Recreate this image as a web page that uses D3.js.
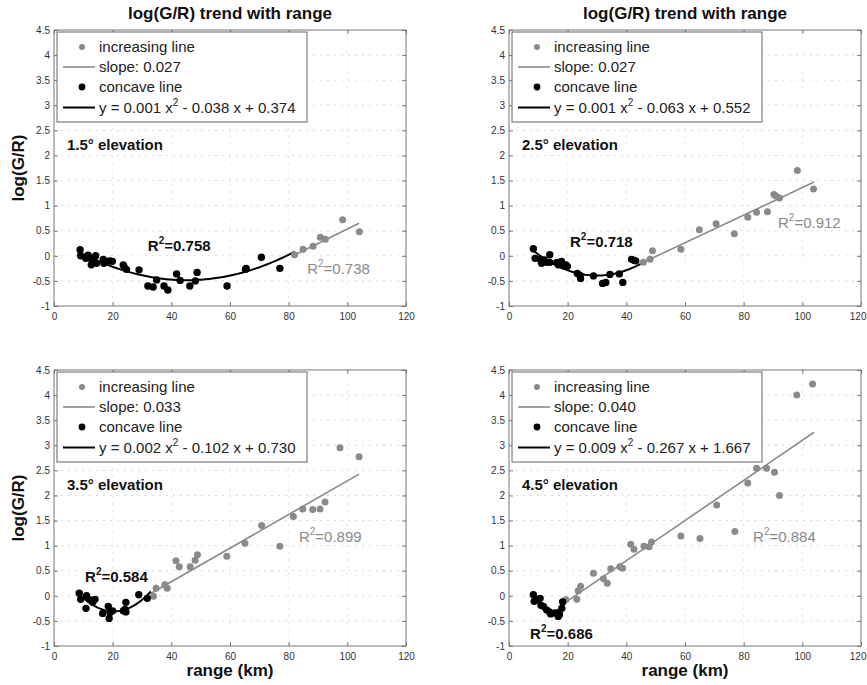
<!DOCTYPE html>
<html>
<head>
<meta charset="utf-8">
<script src="https://cdn.jsdelivr.net/npm/d3@7"></script>
<style>
  body { margin: 0; background: #fff; }
  svg { font-family: "Liberation Sans", Arial, sans-serif; }
</style>
</head>
<body>
<svg id="chart" width="867" height="685"></svg>
<script>
// ---- data ----
const titles = ["log(G/R) trend with range", "log(G/R) trend with range", "", ""];
const elevations = ["1.5° elevation", "2.5° elevation", "3.5° elevation", "4.5° elevation"];
const xTicks = [0, 20, 40, 60, 80, 100, 120];
const yTicks = [-1, -0.5, 0, 0.5, 1, 1.5, 2, 2.5, 3, 3.5, 4, 4.5];

// [range km, log(G/R)]
const concave15 = [[8.9,0.12],[9.1,0.0],[10.8,-0.05],[11.6,0.01],[12.3,-0.05],[12.7,-0.18],[13.4,-0.1],[14.2,0.0],
  [14.5,-0.15],[16.8,-0.07],[17,-0.15],[18.2,-0.11],[19.1,-0.1],[19.9,-0.11],[23.6,-0.18],[24,-0.23],[24.7,-0.27],
  [29,-0.28],[32,-0.6],[33.8,-0.62],[35,-0.48],[37.5,-0.6],[38.8,-0.68],[41.8,-0.36],[43,-0.49],[46.3,-0.6],
  [48.2,-0.5],[48.8,-0.33],[59,-0.6],[65.3,-0.27],[65.5,-0.25],[70.7,-0.03],[77,-0.25]];
const increasing15 = [[82,0.02],[84.9,0.13],[88.3,0.19],[90.8,0.37],[92.5,0.33],[98.4,0.72],[104.1,0.48]];

const concave25 = [[8.3,0.14],[8.9,-0.05],[10.6,-0.07],[11.1,-0.15],[12,-0.08],[12.8,-0.13],[13.9,0.02],[13.9,-0.13],
  [16.3,-0.13],[16.8,-0.18],[17.9,-0.11],[18.5,-0.2],[19.4,-0.18],[19.9,-0.21],[23.3,-0.35],[24.2,-0.39],[24.4,-0.45],
  [28.8,-0.4],[31.9,-0.55],[33,-0.53],[34.4,-0.37],[37.6,-0.36],[38.8,-0.53],[41.8,-0.07],[42.6,-0.09],[43.2,-0.1]];
const increasing25 = [[45.8,-0.13],[48.1,-0.07],[48.9,0.1],[58.6,0.13],[64.9,0.52],[70.6,0.64],[76.8,0.44],[81.4,0.77],
  [84.4,0.87],[88.1,0.88],[90.3,1.22],[91,1.19],[92.2,1.15],[98.3,1.7],[103.8,1.33]];

const concave35 = [[8.6,0.05],[9.1,-0.07],[11.1,0.0],[10.9,-0.25],[12.3,-0.08],[13.2,-0.13],[14,-0.07],[16.6,-0.35],
  [18.5,-0.21],[18.8,-0.45],[19.1,-0.33],[20,-0.3],[23.6,-0.3],[24.2,-0.27],[24.5,-0.32],[24.5,-0.13],[28.9,0.02],[31.8,-0.05]];
const increasing35 = [[33.9,-0.01],[34.8,0.15],[37.8,0.22],[38.6,0.15],[41.6,0.7],[42.7,0.58],[46.4,0.58],[48.1,0.71],
  [48.9,0.82],[58.9,0.79],[65.1,1.05],[70.8,1.4],[77,0.99],[81.6,1.58],[84.8,1.73],[88.2,1.72],[90.7,1.73],[92.4,1.87],
  [97.5,2.95],[104,2.77]];

const concave45 = [[8.3,0.02],[8.6,-0.11],[9.4,-0.08],[10.6,-0.05],[10.9,-0.19],[11.7,-0.21],[12.8,-0.28],[13.8,-0.32],
  [14.2,-0.36],[15.7,-0.34],[16.8,-0.41],[17.2,-0.37],[18,-0.25],[18.3,-0.12]];
const increasing45 = [[19.4,-0.08],[23.1,-0.07],[23.6,0.1],[24.4,0.19],[28.8,0.45],[32.2,0.34],[33.5,0.25],[34.7,0.54],
  [37.8,0.58],[38.7,0.55],[41.5,1.03],[42.6,0.93],[46,0.99],[47.8,0.98],[48.6,1.07],[58.6,1.19],[65.1,1.14],[70.8,1.81],
  [77,1.28],[81.4,2.25],[84.4,2.54],[87.8,2.54],[90.5,2.46],[92.2,2.0],[98.1,4.0],[103.5,4.22]];

const concaveSets = [concave15, concave25, concave35, concave45];
const increasingSets = [increasing15, increasing25, increasing35, increasing45];

// fitted curves as drawn
const quadCoefs = [[0.00042,-0.038,0.374],[0.00105,-0.063,0.552],[0.0025,-0.102,0.730],[0.009,-0.267,1.667]];
const quadRanges = [[9,82],[8.3,46],[8.6,33],[8.3,19.5]];
const lineCoefs = [[0.0288,-2.347],[0.0275,-1.39],[0.0335,-1.06],[0.040,-0.90]];
const lineRanges = [[81.5,104],[46,104],[33,104],[19.5,104]];

const slopeLabels = ["0.027", "0.027", "0.033", "0.040"];
const quadLabels = [["0.001","0.038","0.374"],["0.001","0.063","0.552"],["0.002","0.102","0.730"],["0.009","0.267","1.667"]];
const r2Concave = ["0.758", "0.718", "0.584", "0.686"];
const r2Increasing = ["0.738", "0.912", "0.899", "0.884"];
const r2ConcavePos = [[32,0.1],[20.8,0.175],[10.6,0.275],[7.2,-0.86]];
const r2IncreasingPos = [[86.3,-0.36],[91.7,0.55],[83.5,1.07],[83.2,1.07]];

// ---- layout ----
const panelW = 352, panelH = 276;
const panelPos = [[54,30],[509,30],[54,370],[509,370]];
const grey = "#8a8a8a";

const svg = d3.select("#chart");

function r2Text(sel, val) {
  sel.append("tspan").text("R");
  sel.append("tspan").attr("font-size", "10px").attr("dy", -7).text("2");
  sel.append("tspan").attr("dy", 7).text("=" + val);
}

panelPos.forEach((p, i) => {
  let g = svg.append("g").attr("transform", "translate(" + p[0] + "," + p[1] + ")");

  let x = d3.scaleLinear().domain([0, 120]).range([0, panelW]);
  let y = d3.scaleLinear().domain([-1, 4.5]).range([panelH, 0]);

  // dotted grid
  g.append("g").selectAll("line").data(yTicks.slice(1, -1)).enter().append("line")
    .attr("x1", 0).attr("x2", panelW)
    .attr("y1", d => y(d)).attr("y2", d => y(d))
    .attr("stroke", "#d8d8d8").attr("stroke-dasharray", "2,5");
  g.append("g").selectAll("line").data(xTicks.slice(1, -1)).enter().append("line")
    .attr("y1", 0).attr("y2", panelH)
    .attr("x1", d => x(d)).attr("x2", d => x(d))
    .attr("stroke", "#e6e6e6").attr("stroke-dasharray", "2,5");

  // axes, ticks pointing inward
  let xAxis = g.append("g").attr("transform", "translate(0," + panelH + ")")
    .call(d3.axisBottom(x).tickValues(xTicks).tickSize(-4).tickPadding(7).tickFormat(d => d));
  let yAxis = g.append("g")
    .call(d3.axisLeft(y).tickValues(yTicks).tickSize(-4).tickPadding(4).tickFormat(d => d));
  let topAxis = g.append("g").call(d3.axisTop(x).tickValues(xTicks).tickSize(-4).tickFormat(""));
  let rightAxis = g.append("g").attr("transform", "translate(" + panelW + ",0)")
    .call(d3.axisRight(y).tickValues(yTicks).tickSize(-4).tickFormat(""));

  [xAxis, yAxis, topAxis, rightAxis].forEach(a => {
    a.select(".domain").remove();
    a.selectAll(".tick line").attr("stroke", "#777");
    a.selectAll("text").attr("font-size", "10px").attr("fill", "#333")
      .attr("font-family", "Liberation Sans, Arial, sans-serif");
  });

  // right-hand panels: keep the last x label inside the page
  if (i % 2 === 1) {
    xAxis.selectAll(".tick text").filter(d => d === 120)
      .attr("text-anchor", "end").attr("x", 5);
  }

  g.append("rect").attr("width", panelW).attr("height", panelH)
    .attr("fill", "none").attr("stroke", "#777");

  // increasing line fit
  let lc = lineCoefs[i];
  g.append("line")
    .attr("x1", x(lineRanges[i][0])).attr("y1", y(lc[0] * lineRanges[i][0] + lc[1]))
    .attr("x2", x(lineRanges[i][1])).attr("y2", y(lc[0] * lineRanges[i][1] + lc[1]))
    .attr("stroke", grey).attr("stroke-width", 1.6);

  // concave quadratic fit
  let qc = quadCoefs[i];
  let xs = d3.range(quadRanges[i][0], quadRanges[i][1] + 0.01, (quadRanges[i][1] - quadRanges[i][0]) / 60);
  g.append("path")
    .datum(xs)
    .attr("fill", "none").attr("stroke", "#000").attr("stroke-width", 2)
    .attr("d", d3.line().x(d => x(d)).y(d => y(qc[0] * d * d + qc[1] * d + qc[2])));

  // points
  g.append("g").selectAll("circle").data(increasingSets[i]).enter().append("circle")
    .attr("cx", d => x(d[0])).attr("cy", d => y(d[1])).attr("r", 3.5).attr("fill", grey);
  g.append("g").selectAll("circle").data(concaveSets[i]).enter().append("circle")
    .attr("cx", d => x(d[0])).attr("cy", d => y(d[1])).attr("r", 3.7).attr("fill", "#000");

  // R² labels
  g.append("text").attr("x", x(r2ConcavePos[i][0])).attr("y", y(r2ConcavePos[i][1]))
    .attr("font-size", "15px").attr("font-weight", "bold").attr("fill", "#111")
    .call(r2Text, r2Concave[i]);
  g.append("text").attr("x", x(r2IncreasingPos[i][0])).attr("y", y(r2IncreasingPos[i][1]))
    .attr("font-size", "15px").attr("fill", grey)
    .call(r2Text, r2Increasing[i]);

  // elevation label
  g.append("text").attr("x", x(4.4)).attr("y", y(2.11))
    .attr("font-size", "15px").attr("font-weight", "bold").attr("fill", "#111")
    .text(elevations[i]);

  // legend
  let lg = g.append("g").attr("transform", "translate(3,2)");
  lg.append("rect").attr("width", 250).attr("height", 90)
    .attr("fill", "#fff").attr("stroke", "#666");
  lg.append("circle").attr("cx", 25).attr("cy", 15).attr("r", 3).attr("fill", grey);
  lg.append("line").attr("x1", 6).attr("x2", 38).attr("y1", 35).attr("y2", 35)
    .attr("stroke", grey).attr("stroke-width", 1.6);
  lg.append("circle").attr("cx", 25).attr("cy", 55).attr("r", 3.4).attr("fill", "#000");
  lg.append("line").attr("x1", 6).attr("x2", 38).attr("y1", 75.5).attr("y2", 75.5)
    .attr("stroke", "#000").attr("stroke-width", 2);

  let legendText = ["increasing line", "slope: " + slopeLabels[i], "concave line"];
  lg.selectAll(".lt").data(legendText).enter().append("text")
    .attr("class", "lt")
    .attr("x", 42).attr("y", (d, k) => 19.5 + k * 20)
    .attr("font-size", "15px").attr("fill", "#222")
    .text(d => d);
  let eq = lg.append("text").attr("x", 42).attr("y", 81).attr("font-size", "15px").attr("fill", "#222");
  let ql = quadLabels[i];
  eq.append("tspan").text("y = " + ql[0] + " x");
  eq.append("tspan").attr("font-size", "10px").attr("dy", -7).text("2");
  eq.append("tspan").attr("dy", 7).text(" - " + ql[1] + " x + " + ql[2]);

  // titles and axis labels
  if (titles[i]) {
    svg.append("text").attr("x", p[0] + panelW / 2).attr("y", 19)
      .attr("text-anchor", "middle").attr("font-size", "17px").attr("font-weight", "bold")
      .attr("fill", "#111").text(titles[i]);
  }
  if (i % 2 === 0) {
    svg.append("text")
      .attr("transform", "translate(24," + (p[1] + panelH / 2) + ") rotate(-90)")
      .attr("text-anchor", "middle").attr("font-size", "17px").attr("font-weight", "bold")
      .attr("fill", "#111").text("log(G/R)");
  }
  if (i >= 2) {
    svg.append("text").attr("x", p[0] + panelW / 2).attr("y", 676)
      .attr("text-anchor", "middle").attr("font-size", "17px").attr("font-weight", "bold")
      .attr("fill", "#111").text("range (km)");
  }
});
</script>
</body>
</html>
